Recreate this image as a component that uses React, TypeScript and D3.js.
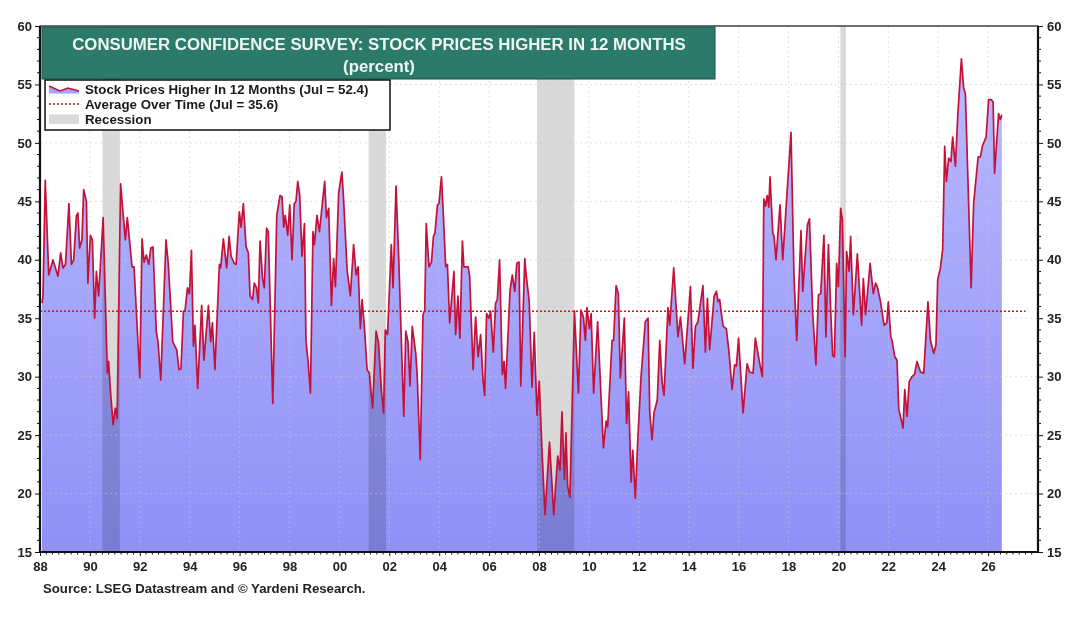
import React, { useEffect, useRef } from "react";
import * as d3 from "d3";

// [decimal year, percent expecting stock prices higher in 12 months]
type Obs = [number, number];

const obs1988to1997: Obs[] = [
  [1988.08, 36.3], [1988.12, 36.9], [1988.21, 46.8], [1988.35, 38.7], [1988.52, 40.0], [1988.72, 38.6],
  [1988.83, 40.6], [1988.92, 39.3], [1989.02, 39.6], [1989.16, 44.8], [1989.26, 39.6], [1989.35, 40.0],
  [1989.46, 43.8], [1989.52, 44.0], [1989.59, 41.0], [1989.68, 41.7], [1989.75, 46.0], [1989.86, 45.0],
  [1989.92, 38.0], [1990.02, 42.1], [1990.10, 41.7], [1990.19, 35.0], [1990.26, 39.0], [1990.35, 36.9],
  [1990.53, 43.6], [1990.70, 30.3], [1990.75, 31.3], [1990.83, 28.6], [1990.93, 25.9], [1991.02, 27.3],
  [1991.09, 26.4], [1991.23, 46.5], [1991.42, 41.7], [1991.50, 43.6], [1991.69, 39.4], [1991.77, 39.4],
  [1992.00, 29.9], [1992.09, 41.8], [1992.17, 39.8], [1992.26, 40.4], [1992.36, 39.6], [1992.44, 41.0],
  [1992.53, 41.1], [1992.66, 33.9], [1992.73, 33.0], [1992.84, 29.7], [1992.92, 34.3], [1993.05, 41.7],
  [1993.14, 39.7], [1993.32, 33.0], [1993.48, 32.3], [1993.57, 30.6], [1993.65, 30.7], [1993.75, 35.6],
  [1993.81, 35.6], [1993.91, 37.6], [1993.99, 37.1], [1994.07, 40.8], [1994.15, 32.6], [1994.21, 34.4],
  [1994.32, 29.0], [1994.48, 36.1], [1994.57, 31.4], [1994.75, 36.1], [1994.84, 33.0], [1994.91, 34.6],
  [1995.01, 30.6], [1995.19, 39.6], [1995.24, 39.3], [1995.35, 41.8], [1995.48, 39.3], [1995.58, 42.0],
  [1995.66, 40.3], [1995.78, 39.7], [1995.86, 39.6], [1995.99, 44.1], [1996.06, 42.8], [1996.15, 44.8],
  [1996.26, 41.1], [1996.35, 40.6], [1996.42, 36.9], [1996.52, 36.6], [1996.59, 38.0], [1996.68, 37.6],
  [1996.75, 36.3], [1996.82, 41.6], [1996.92, 38.4], [1996.99, 37.6], [1997.08, 42.7], [1997.15, 42.4],
  [1997.33, 27.7], [1997.49, 43.8], [1997.62, 45.5],
];

const obs1997to2007: Obs[] = [
  [1997.70, 45.4], [1997.77, 42.8], [1997.83, 43.8], [1997.93, 42.1], [1998.01, 44.7], [1998.10, 40.0],
  [1998.19, 44.8], [1998.26, 45.0], [1998.33, 46.7], [1998.41, 45.5], [1998.50, 40.3], [1998.60, 43.1],
  [1998.66, 33.1], [1998.74, 31.4], [1998.84, 28.6], [1998.94, 42.4], [1999.00, 41.3], [1999.10, 43.8],
  [1999.20, 42.4], [1999.41, 46.7], [1999.48, 43.6], [1999.57, 44.4], [1999.68, 36.1], [1999.77, 40.1],
  [1999.84, 37.7], [1999.97, 45.7], [2000.10, 47.5], [2000.17, 45.1], [2000.31, 39.1], [2000.44, 36.9],
  [2000.57, 41.3], [2000.67, 38.7], [2000.75, 39.4], [2000.84, 34.1], [2000.91, 36.6], [2001.00, 34.3],
  [2001.11, 30.6], [2001.20, 30.3], [2001.33, 27.3], [2001.47, 33.9], [2001.57, 32.9], [2001.68, 28.9],
  [2001.77, 26.9], [2001.84, 34.0], [2001.93, 33.6], [2002.08, 41.3], [2002.15, 37.6], [2002.27, 46.3],
  [2002.38, 40.0], [2002.58, 26.6], [2002.66, 33.9], [2002.75, 33.0], [2002.83, 29.2], [2002.92, 34.3],
  [2003.06, 32.0], [2003.12, 30.0], [2003.24, 22.9], [2003.35, 35.3], [2003.42, 35.7], [2003.48, 43.1],
  [2003.59, 39.4], [2003.69, 39.8], [2003.77, 42.0], [2003.83, 42.3], [2003.93, 44.7], [2003.99, 44.8],
  [2004.09, 47.1], [2004.17, 43.7], [2004.26, 39.4], [2004.33, 39.6], [2004.42, 34.6], [2004.59, 39.0],
  [2004.66, 33.6], [2004.75, 36.9], [2004.83, 33.3], [2004.93, 41.6], [2004.99, 39.4], [2005.16, 39.4],
  [2005.22, 38.6], [2005.36, 30.6], [2005.46, 35.1], [2005.56, 31.7], [2005.66, 33.6], [2005.76, 29.6],
  [2005.82, 28.4], [2005.90, 35.4], [2005.99, 35.0], [2006.06, 35.6], [2006.17, 32.1], [2006.26, 36.3],
  [2006.33, 36.6], [2006.42, 40.0], [2006.53, 30.2], [2006.60, 31.3], [2006.66, 29.0], [2006.84, 37.4],
  [2006.93, 38.7], [2007.03, 37.3], [2007.11, 39.7], [2007.20, 39.8], [2007.27, 29.2], [2007.43, 40.1],
];

const obs2007to2017: Obs[] = [
  [2007.48, 38.8], [2007.61, 36.4], [2007.72, 29.1], [2007.81, 33.8], [2007.92, 26.7], [2008.01, 29.6],
  [2008.12, 23.7], [2008.24, 18.2], [2008.42, 24.4], [2008.59, 18.2], [2008.75, 23.2], [2008.84, 22.0],
  [2008.92, 27.0], [2009.02, 21.2], [2009.08, 25.2], [2009.15, 20.6], [2009.24, 19.7], [2009.42, 35.6],
  [2009.58, 28.6], [2009.68, 35.7], [2009.78, 35.1], [2009.86, 33.1], [2009.92, 35.9], [2010.02, 34.1],
  [2010.09, 35.4], [2010.19, 28.6], [2010.35, 34.7], [2010.58, 23.9], [2010.69, 26.2], [2010.75, 25.7],
  [2010.93, 33.1], [2010.99, 33.1], [2011.09, 37.8], [2011.18, 37.1], [2011.26, 29.9], [2011.42, 35.0],
  [2011.51, 26.0], [2011.59, 28.7], [2011.69, 21.0], [2011.76, 23.7], [2011.86, 19.6], [2011.96, 24.6],
  [2012.09, 30.0], [2012.26, 34.7], [2012.37, 35.0], [2012.44, 26.9], [2012.53, 24.6], [2012.61, 26.9],
  [2012.74, 28.0], [2012.84, 33.1], [2012.93, 29.6], [2013.01, 28.4], [2013.17, 35.9], [2013.24, 34.4],
  [2013.40, 39.3], [2013.57, 33.4], [2013.67, 35.1], [2013.84, 31.1], [2014.07, 37.7], [2014.17, 30.7],
  [2014.27, 34.3], [2014.37, 34.7], [2014.57, 37.8], [2014.67, 32.1], [2014.75, 36.7], [2014.84, 32.3],
  [2015.02, 36.9], [2015.11, 37.3], [2015.18, 36.4], [2015.24, 36.6], [2015.38, 34.3], [2015.51, 34.1],
  [2015.62, 32.0], [2015.74, 28.9], [2015.84, 31.0], [2015.91, 30.9], [2016.00, 33.3], [2016.18, 26.9],
  [2016.34, 31.1], [2016.44, 30.4], [2016.58, 30.3], [2016.67, 33.3], [2016.85, 31.1], [2016.95, 30.0],
  [2017.01, 45.2], [2017.08, 44.6], [2017.15, 45.5], [2017.21, 44.5],
];

const obs2017to2026: Obs[] = [
  [2017.26, 47.1], [2017.37, 42.3], [2017.42, 42.0], [2017.50, 40.0], [2017.66, 44.7], [2017.77, 40.0],
  [2017.95, 46.0], [2018.10, 50.9], [2018.22, 38.6], [2018.33, 33.1], [2018.50, 42.5], [2018.57, 37.3],
  [2018.76, 43.0], [2018.84, 43.5], [2018.97, 35.4], [2019.10, 31.0], [2019.20, 37.0], [2019.29, 37.1],
  [2019.42, 42.1], [2019.50, 33.4], [2019.60, 41.3], [2019.69, 35.7], [2019.77, 31.8], [2019.84, 31.7],
  [2019.93, 39.7], [2020.00, 37.7], [2020.09, 44.4], [2020.16, 43.4], [2020.27, 31.7], [2020.33, 40.7],
  [2020.43, 39.0], [2020.49, 42.0], [2020.60, 35.3], [2020.76, 40.5], [2020.93, 34.4], [2021.00, 38.4],
  [2021.09, 35.3], [2021.27, 39.7], [2021.40, 37.1], [2021.49, 38.0], [2021.56, 37.7], [2021.70, 36.3],
  [2021.83, 34.4], [2021.94, 34.6], [2022.00, 36.4], [2022.10, 33.4], [2022.15, 33.1], [2022.26, 31.7],
  [2022.35, 31.4], [2022.42, 27.2], [2022.52, 26.3], [2022.59, 25.6], [2022.66, 28.9], [2022.75, 26.6],
  [2022.84, 29.6], [2022.95, 30.0], [2023.05, 30.2], [2023.15, 31.3], [2023.29, 30.4], [2023.42, 30.3],
  [2023.59, 36.4], [2023.69, 33.1], [2023.82, 32.0], [2023.91, 32.7], [2023.98, 38.3], [2024.09, 39.3],
  [2024.18, 40.9], [2024.26, 49.7], [2024.33, 46.7], [2024.42, 48.7], [2024.51, 48.4], [2024.58, 50.5],
  [2024.69, 48.0], [2024.78, 52.2], [2024.93, 57.2], [2025.02, 54.7], [2025.09, 54.2], [2025.32, 37.6],
  [2025.42, 44.8], [2025.60, 48.8], [2025.69, 48.8], [2025.78, 49.8], [2025.92, 50.5], [2026.02, 53.7],
  [2026.13, 53.7], [2026.20, 53.5], [2026.26, 47.4], [2026.42, 52.5], [2026.49, 52.0], [2026.55, 52.4],
];

const averageValue = 35.6;

// NBER recessions, [start, end] in decimal years
const recessions: [number, number][] = [
  [1990.5, 1991.2],
  [2001.17, 2001.87],
  [2007.92, 2009.42],
  [2020.08, 2020.3],
];

const yTicks = [15, 20, 25, 30, 35, 40, 45, 50, 55, 60];
const xLabelYears = d3.range(1988, 2027, 2);

const titleLines = [
  "CONSUMER CONFIDENCE SURVEY: STOCK PRICES HIGHER IN 12 MONTHS",
  "(percent)",
];
const legendLabels = [
  "Stock Prices Higher In 12 Months (Jul = 52.4)",
  "Average Over Time (Jul = 35.6)",
  "Recession",
];
const sourceNote = "Source: LSEG Datastream and \u00A9 Yardeni Research.";

const W = 1080;
const H = 618;
const FONT = "'Liberation Sans', Arial, Helvetica, sans-serif";

const Chart: React.FC = () => {
  const svgRef = useRef<SVGSVGElement>(null);

  useEffect(() => {
    if (!svgRef.current) return;
    const svg = d3.select(svgRef.current);
    svg.selectAll("*").remove();

    const data: Obs[] = [...obs1988to1997, ...obs1997to2007, ...obs2007to2017, ...obs2017to2026];

    const left = 40, right = 1038, top = 26, bottom = 552;
    const x = d3.scaleLinear().domain([1988, 2028]).range([left, right]);
    const y = d3.scaleLinear().domain([15, 60]).range([bottom, top]);

    svg.attr("width", W).attr("height", H).style("font-family", FONT);
    svg.append("rect").attr("width", W).attr("height", H).attr("fill", "#fff");

    const defs = svg.append("defs");
    const grad = defs
      .append("linearGradient")
      .attr("id", "areaFill")
      .attr("gradientUnits", "userSpaceOnUse")
      .attr("x1", 0).attr("y1", top).attr("x2", 0).attr("y2", bottom);
    grad.append("stop").attr("offset", "0%").attr("stop-color", "#bcbcff");
    grad.append("stop").attr("offset", "100%").attr("stop-color", "#9090f7");

    // Area under the series
    const area = d3
      .area<Obs>()
      .x((d) => x(d[0]))
      .y0(y(15))
      .y1((d) => y(d[1]));
    svg.append("path").datum(data).attr("d", area).attr("fill", "url(#areaFill)");

    // Recession shading (multiplied so it darkens the area underneath)
    svg
      .append("g")
      .selectAll("rect")
      .data(recessions)
      .join("rect")
      .attr("x", (d) => x(d[0]))
      .attr("width", (d) => x(d[1]) - x(d[0]))
      .attr("y", top)
      .attr("height", bottom - top)
      .attr("fill", "#d9d9d9")
      .style("mix-blend-mode", "multiply");

    // Grid
    const grid = svg
      .append("g")
      .attr("stroke", "#c8c8c8")
      .attr("stroke-width", 1)
      .attr("stroke-dasharray", "2,3")
      .attr("opacity", 0.55);
    grid
      .selectAll("line.h")
      .data(yTicks.filter((v) => v > 15 && v < 60))
      .join("line")
      .attr("x1", left).attr("x2", right)
      .attr("y1", (d) => y(d)).attr("y2", (d) => y(d));
    grid
      .selectAll("line.v")
      .data(xLabelYears.filter((v) => v > 1988))
      .join("line")
      .attr("x1", (d) => x(d)).attr("x2", (d) => x(d))
      .attr("y1", top).attr("y2", bottom);

    // Average line
    svg
      .append("line")
      .attr("x1", x(1988)).attr("x2", x(2027.5))
      .attr("y1", y(averageValue)).attr("y2", y(averageValue))
      .attr("stroke", "#d2141e")
      .attr("stroke-width", 1.6)
      .attr("stroke-dasharray", "2,2");

    // Series line
    const line = d3
      .line<Obs>()
      .x((d) => x(d[0]))
      .y((d) => y(d[1]));
    svg
      .append("path")
      .datum(data)
      .attr("d", line)
      .attr("fill", "none")
      .attr("stroke", "#c4113a")
      .attr("stroke-width", 1.7)
      .attr("stroke-linejoin", "round");

    // Frame
    svg
      .append("rect")
      .attr("x", left).attr("y", top)
      .attr("width", right - left).attr("height", bottom - top)
      .attr("fill", "none").attr("stroke", "#111").attr("stroke-width", 1.2);
    svg.append("line").attr("x1", left).attr("x2", left).attr("y1", top).attr("y2", bottom + 1).attr("stroke", "#111").attr("stroke-width", 2.2);
    svg.append("line").attr("x1", right).attr("x2", right).attr("y1", top).attr("y2", bottom + 1).attr("stroke", "#111").attr("stroke-width", 2.2);
    svg.append("line").attr("x1", left - 1).attr("x2", right + 1).attr("y1", bottom).attr("y2", bottom).attr("stroke", "#111").attr("stroke-width", 2.2);

    // Axes
    const labelStyle = (g: d3.Selection<SVGGElement, unknown, null, undefined>) => {
      g.select(".domain").remove();
      g.selectAll("text").attr("font-size", 13).attr("font-weight", "bold").attr("fill", "#222").style("font-family", FONT);
      g.selectAll(".tick line").attr("stroke", "#111");
    };
    svg
      .append("g")
      .attr("transform", `translate(${left},0)`)
      .call(d3.axisLeft(y).tickValues(yTicks).tickSize(5).tickPadding(3).tickFormat(d3.format("d")))
      .call(labelStyle);
    svg
      .append("g")
      .attr("transform", `translate(${right},0)`)
      .call(d3.axisRight(y).tickValues(yTicks).tickSize(5).tickPadding(4).tickFormat(d3.format("d")))
      .call(labelStyle);
    svg
      .append("g")
      .attr("transform", `translate(0,${bottom})`)
      .call(
        d3
          .axisBottom(x)
          .tickValues(xLabelYears)
          .tickSize(4)
          .tickPadding(6)
          .tickFormat((d) => d3.format("02d")(Math.round(+d) % 100))
      )
      .call(labelStyle);

    // Minor ticks
    const minor = svg.append("g").attr("stroke", "#111").attr("stroke-width", 1);
    const unitTicks = d3.range(15, 61).filter((v) => v % 5 !== 0);
    minor.selectAll("line.ml").data(unitTicks).join("line")
      .attr("x1", left - 3).attr("x2", left).attr("y1", (d) => y(d)).attr("y2", (d) => y(d));
    minor.selectAll("line.mr").data(unitTicks).join("line")
      .attr("x1", right).attr("x2", right + 3).attr("y1", (d) => y(d)).attr("y2", (d) => y(d));
    const quarterTicks = d3.range(1988, 2028, 0.25).filter((v) => !xLabelYears.includes(v));
    minor.selectAll("line.mb").data(quarterTicks).join("line")
      .attr("x1", (d) => x(d)).attr("x2", (d) => x(d)).attr("y1", bottom).attr("y2", bottom + 2.5);

    // Title box
    const title = svg.append("g");
    title
      .append("rect")
      .attr("x", 42).attr("y", 27).attr("width", 673).attr("height", 52)
      .attr("fill", "#2c7b6a").attr("stroke", "#1d4f44").attr("stroke-width", 1);
    title
      .selectAll("text")
      .data(titleLines)
      .join("text")
      .attr("x", 379)
      .attr("y", (_, i) => (i === 0 ? 49.5 : 72))
      .attr("text-anchor", "middle")
      .attr("font-size", 16.8)
      .attr("font-weight", "bold")
      .attr("fill", "#eef5f1")
      .text((d) => d);

    // Legend
    const legend = svg.append("g");
    legend
      .append("rect")
      .attr("x", 45).attr("y", 80).attr("width", 345).attr("height", 50)
      .attr("fill", "#fff").attr("stroke", "#111").attr("stroke-width", 1.5);
    legend
      .append("path")
      .attr("d", "M49,86 L60,91 L68,88 L79,91 L79,93.5 L49,93.5 Z")
      .attr("fill", "#a3a3fb");
    legend
      .append("path")
      .attr("d", "M49,86 L60,91 L68,88 L79,91")
      .attr("fill", "none").attr("stroke", "#c4113a").attr("stroke-width", 1.4);
    legend
      .append("line")
      .attr("x1", 49).attr("x2", 79).attr("y1", 104).attr("y2", 104)
      .attr("stroke", "#d2141e").attr("stroke-width", 1.5).attr("stroke-dasharray", "2,2");
    legend
      .append("rect")
      .attr("x", 49).attr("y", 114.5).attr("width", 30).attr("height", 9.5)
      .attr("fill", "#d9d9d9");
    legend
      .selectAll("text")
      .data(legendLabels)
      .join("text")
      .attr("x", 85)
      .attr("y", (_, i) => 93.8 + i * 15)
      .attr("font-size", 13.3)
      .attr("font-weight", "bold")
      .attr("fill", "#1a1a1a")
      .text((d) => d);

    // Source
    svg
      .append("text")
      .attr("x", 43)
      .attr("y", 593)
      .attr("font-size", 13.2)
      .attr("font-weight", "bold")
      .attr("fill", "#222")
      .text(sourceNote);
  }, []);

  return <svg ref={svgRef} width={W} height={H} />;
};

export default function App() {
  return (
    <div style={{ position: "fixed", left: 0, top: 0, width: W, height: H, background: "#fff" }}>
      <Chart />
    </div>
  );
}
